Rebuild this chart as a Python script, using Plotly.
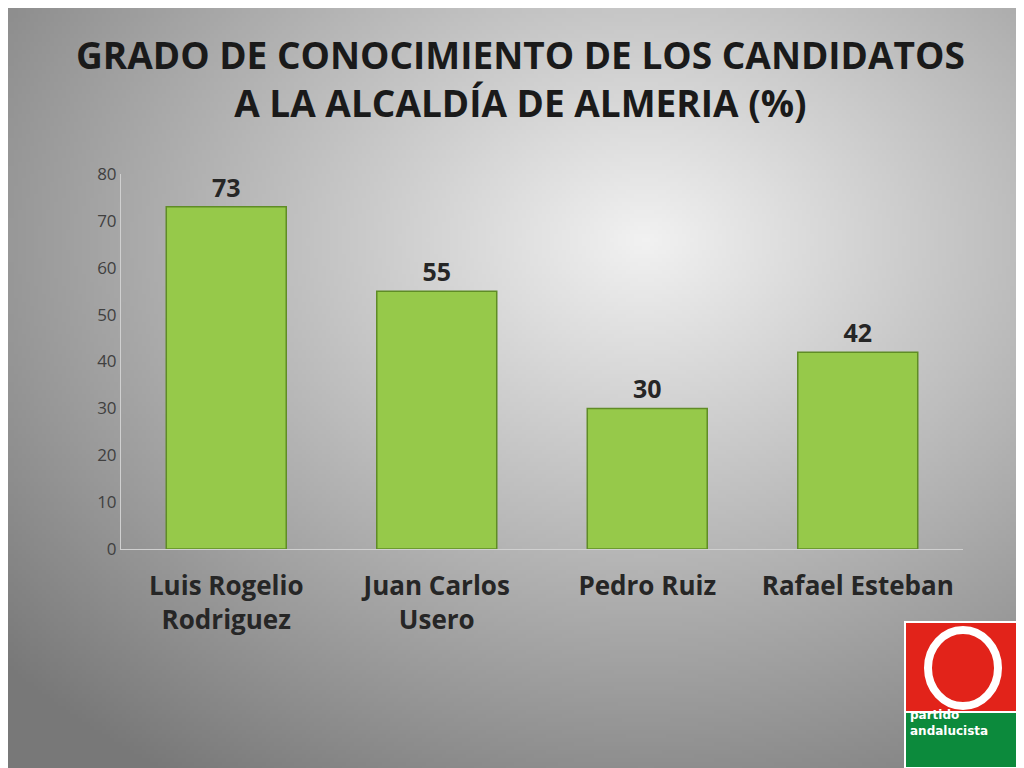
import base64
import struct
import zlib

import numpy as np
import plotly.graph_objects as go

candidates = ["Luis Rogelio<br>Rodriguez", "Juan Carlos<br>Usero", "Pedro Ruiz", "Rafael Esteban"]
values = [73, 55, 30, 42]
y_ticks = [0, 10, 20, 30, 40, 50, 60, 70, 80]

W, H = 1024, 768
L, R, T, B = 113, 69, 166, 227


def gradient_png(w=256, h=192):
    # radial grey gradient like the slide background
    yy, xx = np.mgrid[0:h, 0:w]
    cx, cy = 0.62 * w, 0.3 * h
    d = np.sqrt(((xx - cx) / w) ** 2 + ((yy - cy) / h) ** 2)
    g = np.clip(242 - d * 145, 120, 242).astype(np.uint8)
    raw = b"".join(b"\x00" + g[r].tobytes() for r in range(h))

    def chunk(tag, data):
        c = struct.pack(">I", len(data)) + tag + data
        return c + struct.pack(">I", zlib.crc32(tag + data) & 0xffffffff)

    png = b"\x89PNG\r\n\x1a\n" + chunk(b"IHDR", struct.pack(">IIBBBBB", w, h, 8, 0, 0, 0, 0))
    png += chunk(b"IDAT", zlib.compress(raw, 9)) + chunk(b"IEND", b"")
    return "data:image/png;base64," + base64.b64encode(png).decode()


pw, ph = W - L - R, H - T - B


def px(x):
    return (x - L) / pw


def py(y):
    return (H - B - y) / ph


fig = go.Figure(go.Bar(
    x=candidates, y=values, width=0.57,
    marker=dict(color="#96c94a", line=dict(color="#5f8c26", width=1.5)),
    text=[f"<b>{v}</b>" for v in values], textposition="outside",
    textfont=dict(family="Open Sans", size=25, color="#262626"),
    cliponaxis=False,
))

fig.add_layout_image(dict(
    source=gradient_png(), xref="paper", yref="paper",
    x=-L / pw, y=1 + T / ph, sizex=W / pw, sizey=H / ph,
    sizing="stretch", layer="below", xanchor="left", yanchor="top",
))

fig.add_annotation(xref="paper", yref="paper", x=px(512), y=py(70),
                   text="<b>GRADO DE CONOCIMIENTO DE LOS CANDIDATOS<br>A LA ALCALDÍA DE ALMERIA (%)</b>",
                   showarrow=False, xanchor="center", yanchor="middle",
                   font=dict(family="Open Sans", size=37, color="#1a1a1a"))

# party logo, bottom right
fig.add_shape(type="rect", xref="paper", yref="paper",
              x0=px(897), x1=px(1012), y0=py(704), y1=py(614),
              fillcolor="#e2231a", line=dict(color="white", width=2))
fig.add_shape(type="circle", xref="paper", yref="paper",
              x0=px(920), x1=px(990), y0=py(698), y1=py(622),
              fillcolor="rgba(0,0,0,0)", line=dict(color="white", width=8))
fig.add_shape(type="rect", xref="paper", yref="paper",
              x0=px(897), x1=px(1012), y0=py(760), y1=py(704),
              fillcolor="#0c8a3c", line=dict(color="white", width=2))
fig.add_annotation(xref="paper", yref="paper", x=px(900), y=py(732),
                   text="<b>partido<br>andalucista</b>", showarrow=False, xanchor="left",
                   align="left", font=dict(family="DejaVu Sans", size=12, color="white"))

fig.update_layout(
    width=W, height=H,
    margin=dict(l=L, r=R, t=T, b=B),
    paper_bgcolor="#bbbbbb", plot_bgcolor="rgba(0,0,0,0)",
    showlegend=False,
)
fig.update_yaxes(range=[0, 80], tickvals=y_ticks, showgrid=False, zeroline=False,
                 showline=True, linecolor="#d0d0d0", ticks="",
                 tickfont=dict(family="Open Sans", size=17, color="#404040"))
fig.update_xaxes(showgrid=False, showline=True, linecolor="#d0d0d0", ticks="",
                 tickvals=candidates, ticktext=[f"<b>{c}</b>" for c in candidates],
                 ticklabelstandoff=14,
                 tickfont=dict(family="Open Sans", size=26, color="#262626"))

fig.write_html("out.html")
